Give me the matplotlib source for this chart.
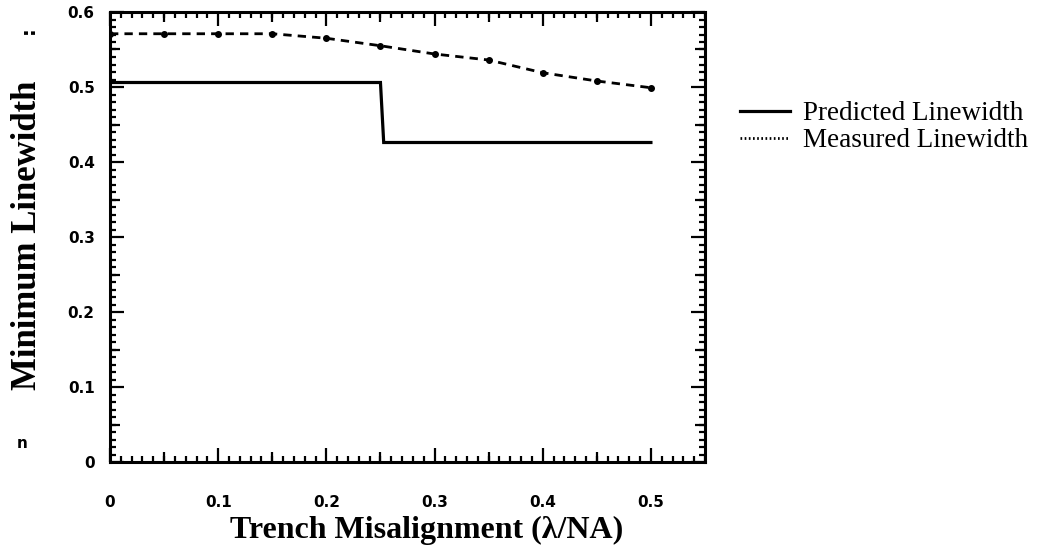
import matplotlib
matplotlib.use("Agg")
import matplotlib.pyplot as plt
from matplotlib.ticker import MultipleLocator, FuncFormatter, NullFormatter, FixedLocator
from matplotlib.lines import Line2D

# Predicted linewidth: a step down near 0.25 lambda/NA
misalign_pred = [0.0, 0.25, 0.253, 0.5]
width_pred = [0.506, 0.506, 0.426, 0.426]

# Measured linewidth samples
misalign_meas = [0.0, 0.05, 0.1, 0.15, 0.2, 0.25, 0.3, 0.35, 0.4, 0.45, 0.5]
width_meas = [0.571, 0.571, 0.571, 0.571, 0.565, 0.555, 0.544, 0.536, 0.519, 0.508, 0.499]

x_ticks = [0.0, 0.1, 0.2, 0.3, 0.4, 0.5]
y_ticks = [0.0, 0.1, 0.2, 0.3, 0.4, 0.5, 0.6]
x_mid_ticks = [0.05, 0.15, 0.25, 0.35, 0.45]
y_mid_ticks = [0.05, 0.15, 0.25, 0.35, 0.45, 0.55]

serif = ["Liberation Serif", "DejaVu Serif"]

fig = plt.figure(figsize=(10.46, 5.5), dpi=100)
ax = fig.add_axes([110 / 1046, 1 - 462 / 550, 595 / 1046, 450 / 550])

ax.plot(misalign_pred, width_pred, color="black", lw=2.3, solid_joinstyle="miter")
ax.plot(misalign_meas, width_meas, color="black", lw=2.0, linestyle=(0, (3, 2.2)),
        marker="o", markersize=4)

ax.set_xlim(0, 0.55)
ax.set_ylim(0, 0.6)

def fmt(v, pos):
    return "0" if abs(v) < 1e-9 else f"{v:.1f}"

ax.xaxis.set_major_locator(FixedLocator(x_ticks))
ax.yaxis.set_major_locator(FixedLocator(y_ticks))
ax.xaxis.set_major_formatter(FuncFormatter(fmt))
ax.yaxis.set_major_formatter(FuncFormatter(fmt))
ax.xaxis.set_minor_locator(MultipleLocator(0.01))
ax.yaxis.set_minor_locator(MultipleLocator(0.01))

ax.tick_params(which="both", direction="in", top=True, right=True, width=1.6)
ax.tick_params(which="major", length=10)
ax.tick_params(which="minor", length=4.5)
ax.tick_params(axis="x", which="major", pad=24)
ax.tick_params(axis="y", which="major", pad=11)
for lab in ax.get_xticklabels() + ax.get_yticklabels():
    lab.set_fontweight("heavy")
    lab.set_fontsize(11)
    lab.set_family("DejaVu Sans")

for s in ax.spines.values():
    s.set_linewidth(2.2)

# Mid-length ticks at every 0.05
for loc in ("bottom", "top"):
    sec = ax.secondary_xaxis(loc)
    sec.xaxis.set_major_locator(FixedLocator(x_mid_ticks))
    sec.xaxis.set_major_formatter(NullFormatter())
    sec.tick_params(direction="in", length=7, width=1.6)
    sec.spines[loc].set_visible(False)
for loc in ("left", "right"):
    sec = ax.secondary_yaxis(loc)
    sec.yaxis.set_major_locator(FixedLocator(y_mid_ticks))
    sec.yaxis.set_major_formatter(NullFormatter())
    sec.tick_params(direction="in", length=7, width=1.6)
    sec.spines[loc].set_visible(False)

ax.set_xlabel("Trench Misalignment (\u03bb/NA)", family=serif, fontweight="bold", fontsize=23)
ax.xaxis.set_label_coords(0.532, -0.12)
ax.set_ylabel("Minimum Linewidth", family=serif, fontweight="bold", fontsize=25)
ax.yaxis.set_label_coords(-0.111, 0.504)

handles = [
    Line2D([], [], color="black", lw=2.3),
    Line2D([], [], color="black", lw=2.0, linestyle=(0, (0.6, 0.9))),
]
fig.legend(handles, ["Predicted Linewidth", "Measured Linewidth"],
           loc="upper left", bbox_to_anchor=(740 / 1046, 1 - 101 / 550),
           frameon=False, borderpad=0, borderaxespad=0,
           handlelength=1.85, handletextpad=0.48, labelspacing=0.08,
           prop={"family": serif, "size": 19.5})

fig.text(28 / 1046, 1 - 30 / 550, ":", rotation=90, ha="center", va="center",
         fontsize=14, fontweight="bold", family="DejaVu Sans")
fig.text(22 / 1046, 1 - 443 / 550, "n", ha="center", va="center",
         fontsize=11, fontweight="bold", family="DejaVu Sans")

fig.savefig("out.png", dpi=100)
